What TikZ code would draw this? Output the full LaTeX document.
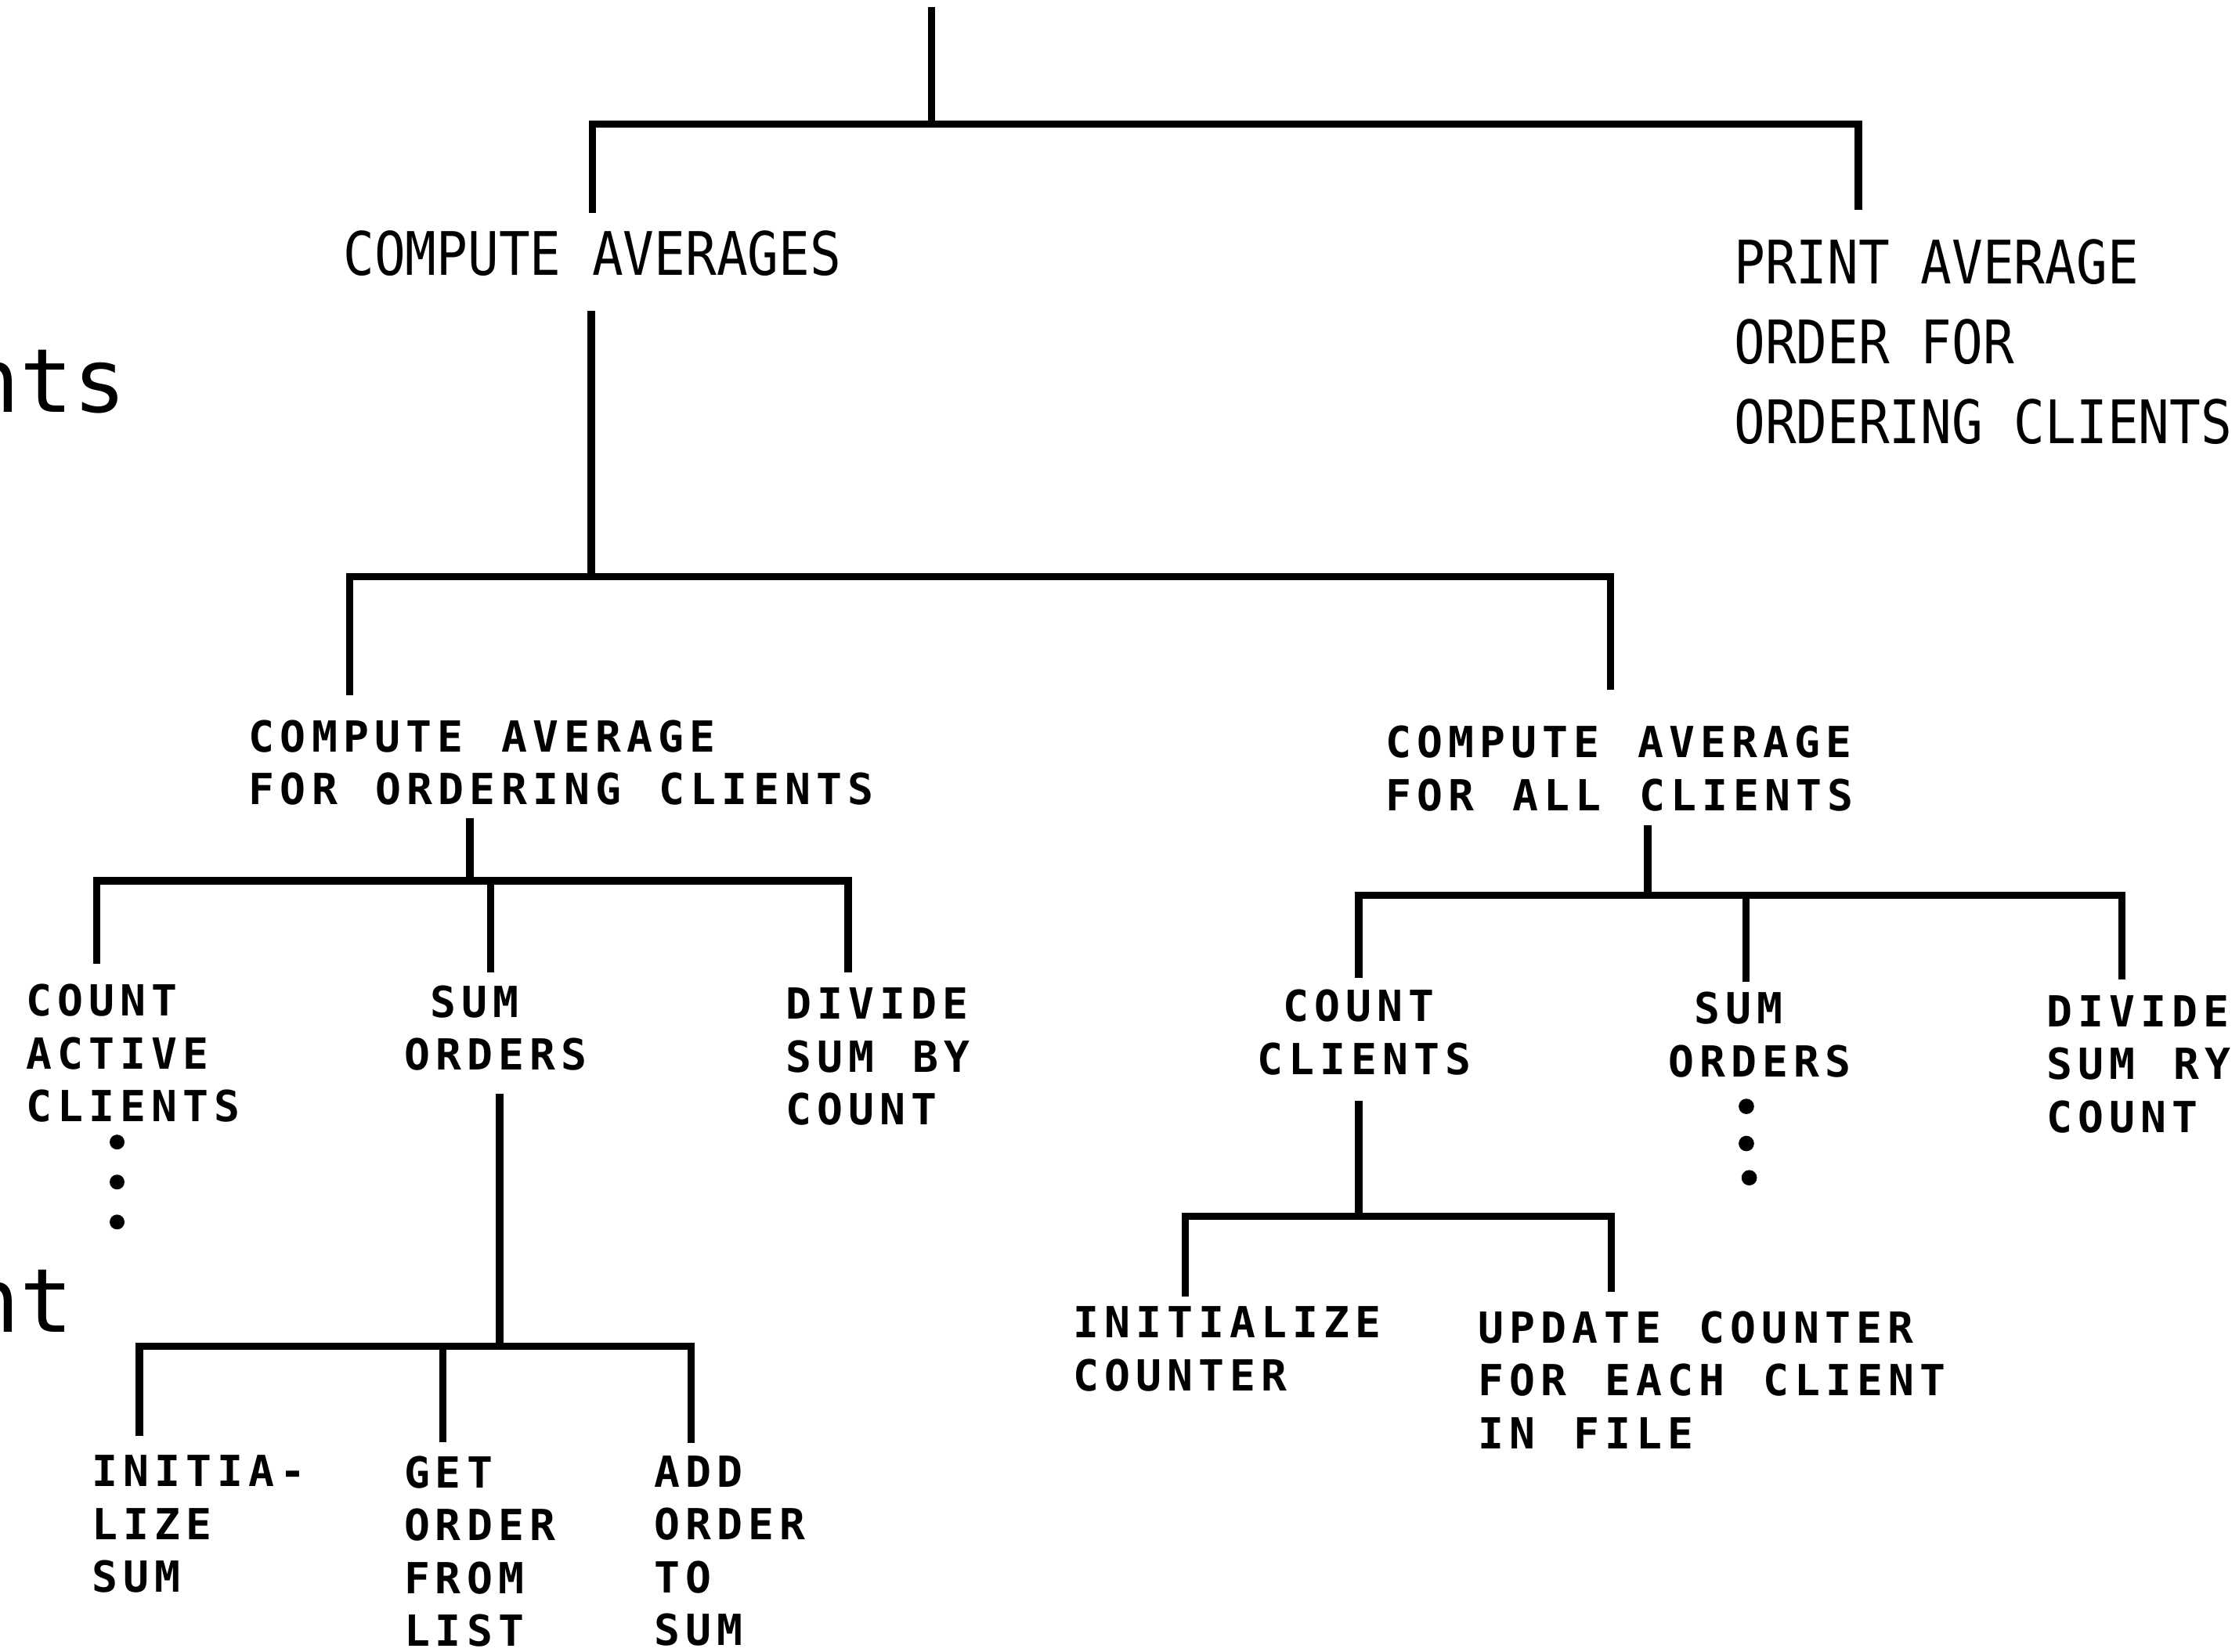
\documentclass[tikz,border=0pt]{standalone}
\usepackage{fontspec}
\newfontfamily\topfont[FakeStretch=0.862]{DejaVu Sans Mono}
\newfontfamily\lowfont[LetterSpace=13,WordSpace=1.22]{DejaVu Sans Mono}
\newfontfamily\cutfont{DejaVu Sans Mono}
\tikzset{
  toptext/.style={anchor=north west, inner sep=0pt, align=left,
    font=\topfont\fontsize{21}{28}\selectfont},
  lowtext/.style={anchor=north west, inner sep=0pt, align=left,
    font=\lowfont\bfseries\fontsize{15}{18.5}\selectfont},
  cuttext/.style={anchor=base east, inner sep=0pt,
    font=\cutfont\fontsize{31}{31}\selectfont},
  branch/.style={line width=2.6pt, line join=miter, line cap=butt},
}
\begin{document}
\begin{tikzpicture}[x=0.5pt, y=-0.5pt]
\useasboundingbox (0,0) rectangle (1568,1157);

% cut-off fragments at the left edge
\node[cuttext] (frag1) at (89.25,289) {nts};
\node[cuttext] (frag2) at (51.75,933) {nt};

% texts
\node[toptext] (ca) at (240,161) {COMPUTE AVERAGES};
\node[toptext] (pa) at (1214,167) {PRINT AVERAGE\\ORDER FOR\\ORDERING CLIENTS};

\node[lowtext] (cao) at (174,504) {COMPUTE AVERAGE\\FOR ORDERING CLIENTS};
\node[lowtext] (caa) at (970,508) {COMPUTE AVERAGE\\FOR ALL CLIENTS};

\node[lowtext] (cac) at (18,689) {COUNT\\ACTIVE\\CLIENTS};
\node[lowtext] (so1) at (283,690) {\hphantom{S}SUM\\ORDERS};
\node[lowtext] (dv1) at (550,691.6) {DIVIDE\\SUM BY\\COUNT};

\node[lowtext] (ini) at (64,1019) {INITIA-\\LIZE\\SUM};
\node[lowtext] (get) at (282.6,1019.5) {GET\\ORDER\\FROM\\LIST};
\node[lowtext] (add) at (457.6,1019.5) {ADD\\ORDER\\TO\\SUM};

\node[lowtext] (cc) at (880,693) {\hphantom{S}COUNT\\CLIENTS};
\node[lowtext] (so2) at (1168,694.5) {\hphantom{S}SUM\\ORDERS};
\node[lowtext] (dv2) at (1433,697) {DIVIDE\\SUM RY\\COUNT};

\node[lowtext] (inc) at (751,915) {INITIALIZE\\COUNTER};
\node[lowtext] (upd) at (1035,918) {UPDATE COUNTER\\FOR EACH CLIENT\\IN FILE};

% continuation dots
\fill (82,800) circle (2.6pt);
\fill (82,828) circle (2.6pt);
\fill (82,856) circle (2.6pt);
\fill (1223,775) circle (2.7pt);
\fill (1223,801) circle (2.7pt);
\fill (1225,825) circle (2.7pt);

% level 1
\coordinate (root-top) at (652.5,5);
\coordinate (bar1) at (652.5,87);
\coordinate (ca-up) at (415,149);
\coordinate (pa-up) at (1301.5,147);
\draw[branch] (root-top) -- (bar1);
\draw[branch] (ca-up) -- (ca-up |- bar1) -- (pa-up |- bar1) -- (pa-up);

% level 2
\coordinate (ca-down) at (414,218);
\coordinate (bar2) at (414,404);
\coordinate (cao-up) at (245,487);
\coordinate (caa-up) at (1128,483);
\draw[branch] (ca-down) -- (bar2);
\draw[branch] (cao-up) -- (cao-up |- bar2) -- (caa-up |- bar2) -- (caa-up);

% level 3 left
\coordinate (cao-down) at (329,573);
\coordinate (bar3) at (329,617);
\coordinate (cac-up) at (67.6,675);
\coordinate (so1-up) at (343.6,681);
\coordinate (dv1-up) at (594,681);
\draw[branch] (cao-down) -- (bar3);
\draw[branch] (cac-up) -- (cac-up |- bar3) -- (dv1-up |- bar3) -- (dv1-up);
\draw[branch] (so1-up |- bar3) -- (so1-up);

% level 4 left
\coordinate (so1-down) at (350,766);
\coordinate (bar4) at (350,943);
\coordinate (ini-up) at (97.5,1006);
\coordinate (get-up) at (310,1010);
\coordinate (add-up) at (484,1011);
\draw[branch] (so1-down) -- (bar4);
\draw[branch] (ini-up) -- (ini-up |- bar4) -- (add-up |- bar4) -- (add-up);
\draw[branch] (get-up |- bar4) -- (get-up);

% level 3 right
\coordinate (caa-down) at (1154,578);
\coordinate (bar5) at (1154,627);
\coordinate (cc-up) at (951.6,685);
\coordinate (so2-up) at (1222.6,687.5);
\coordinate (dv2-up) at (1486,686);
\draw[branch] (caa-down) -- (bar5);
\draw[branch] (cc-up) -- (cc-up |- bar5) -- (dv2-up |- bar5) -- (dv2-up);
\draw[branch] (so2-up |- bar5) -- (so2-up);

% level 4 right
\coordinate (cc-down) at (951.6,771);
\coordinate (bar6) at (951.6,852);
\coordinate (inc-up) at (830,908);
\coordinate (upd-up) at (1128.5,905);
\draw[branch] (cc-down) -- (bar6);
\draw[branch] (inc-up) -- (inc-up |- bar6) -- (upd-up |- bar6) -- (upd-up);
\end{tikzpicture}
\end{document}
